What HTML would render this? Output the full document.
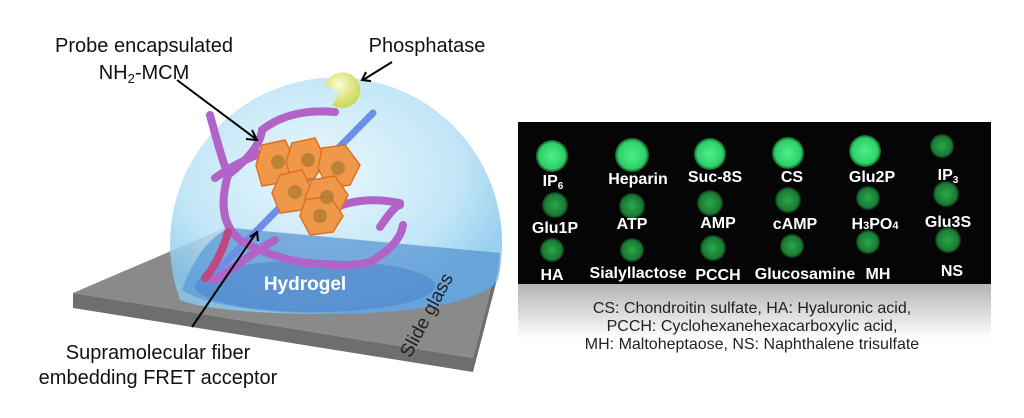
<!DOCTYPE html>
<html><head><style>
body{margin:0;background:#fff;width:1024px;height:413px;overflow:hidden;font-family:"Liberation Sans",sans-serif;}
</style></head><body>
<svg width="1024" height="413" viewBox="0 0 1024 413" xmlns="http://www.w3.org/2000/svg">
<defs>
<radialGradient id="sph" cx="0.45" cy="0.4" r="0.6">
<stop offset="0" stop-color="#e6f6fc"/><stop offset="0.7" stop-color="#b8e2f6"/><stop offset="1" stop-color="#88c8ec"/>
</radialGradient>
<linearGradient id="refl" x1="0" y1="0" x2="0" y2="1">
<stop offset="0" stop-color="#b4b4b4"/><stop offset="1" stop-color="#fff"/>
</linearGradient>
<radialGradient id="spot" cx="0.5" cy="0.5" r="0.5">
<stop offset="0" stop-color="#4cf08a"/><stop offset="0.8" stop-color="#30d068"/><stop offset="1" stop-color="#0f5a24"/>
</radialGradient>
<radialGradient id="dim" cx="0.5" cy="0.5" r="0.5">
<stop offset="0" stop-color="#2aa84a"/><stop offset="0.8" stop-color="#1a7a34"/><stop offset="1" stop-color="#0a3014"/>
</radialGradient>
<radialGradient id="pac" cx="0.4" cy="0.35" r="0.6">
<stop offset="0" stop-color="#fbfdd0"/><stop offset="1" stop-color="#cfd860"/>
</radialGradient>
</defs>
<!-- slide glass -->
<polygon points="73,308 473,372 500,268 500,253 473,358 73,293" fill="#6e6e6e"/>
<polygon points="73,293 227,227 500,253 473,358" fill="#8a8a8a"/>
<!-- sphere (cut at glass) -->
<path d="M180 300 A166 166 0 1 1 498 280 Q470 312 335 314 Q215 314 180 300Z" fill="url(#sph)" opacity="0.85"/>
<path d="M182 290 Q200 240 230 228 L500 253 L495 285 Q460 312 335 314 Q215 312 182 290Z" fill="#5a98d8" opacity="0.7"/>
<ellipse cx="315" cy="286" rx="120" ry="26" fill="#4f86cc" opacity="0.6"/>
<!-- blue rod -->
<line x1="373" y1="113" x2="212" y2="276" stroke="#6c8ee8" stroke-width="7" stroke-linecap="round"/>
<!-- fibers -->
<g fill="none" stroke="#b263c8" stroke-width="8" stroke-linecap="round">
<path d="M210 115 Q222 160 228 175 Q260 150 262 130 Q290 108 335 112"/>
<path d="M228 175 Q215 220 240 240 Q265 255 300 262 Q350 268 370 262 Q400 245 403 225"/>
<path d="M215 178 Q240 160 270 150"/>
<path d="M275 240 Q250 255 230 270 Q212 284 210 278"/>
<path d="M380 227 Q395 205 400 205"/>
<path d="M330 210 Q360 195 400 203"/>
</g>
<path d="M228 232 Q220 260 205 278" stroke="#c04880" stroke-width="8" fill="none" stroke-linecap="round"/>
<!-- MCM hexes -->
<g fill="#f0984a" stroke="#e07020" stroke-width="1.5">
<polygon points="262,145 285,140 295,160 285,182 262,186 256,165"/>
<polygon points="292,143 315,138 325,158 315,178 292,182 286,162"/>
<polygon points="322,148 345,145 360,165 350,185 328,188 318,168"/>
<polygon points="280,175 302,170 312,190 302,210 280,213 272,193"/>
<polygon points="312,180 335,176 348,195 338,215 315,218 305,198"/>
<polygon points="305,200 330,196 343,216 333,232 310,235 300,216"/>
</g>
<g fill="#a87a30" opacity="0.7">
<circle cx="278" cy="162" r="7"/><circle cx="308" cy="160" r="7"/><circle cx="338" cy="168" r="7"/>
<circle cx="295" cy="192" r="7"/><circle cx="327" cy="197" r="7"/><circle cx="320" cy="216" r="7"/>
</g>
<!-- phosphatase -->
<path d="M340 93 m-8 12 A18 18 0 1 0 325 85 L340 93 Z" fill="url(#pac)"/>
<!-- arrows -->
<g stroke="#000" stroke-width="2" fill="none">
<line x1="177" y1="80" x2="256" y2="139"/><polyline points="246,139 257,140 252,130"/>
<line x1="392" y1="62" x2="363" y2="80"/><polyline points="366,72 362,80 371,81"/>
<line x1="192" y1="327" x2="256" y2="233"/><polyline points="250,237 257,232 258,241"/>
</g>
<!-- left labels -->
<g font-size="20" fill="#111" text-anchor="middle">
<text x="144" y="52">Probe encapsulated</text>
<text x="144" y="79">NH<tspan font-size="13" dy="4">2</tspan><tspan dy="-4">-MCM</tspan></text>
<text x="427" y="52">Phosphatase</text>
<text x="158" y="359">Supramolecular fiber</text>
<text x="158" y="384">embedding FRET acceptor</text>
</g>
<text x="305" y="290" font-size="19" font-weight="bold" fill="#fff" text-anchor="middle">Hydrogel</text>
<text x="432" y="318" font-size="19" fill="#222" text-anchor="middle" transform="rotate(-62 432 318)">Slide glass</text>
<!-- right panel -->
<rect x="518" y="284" width="473" height="55" fill="url(#refl)"/>
<rect x="518" y="122" width="473" height="162" fill="#050505"/>
<g>
<circle cx="552" cy="156" r="16" fill="url(#spot)"/><circle cx="632" cy="155" r="17" fill="url(#spot)"/>
<circle cx="710" cy="154" r="16" fill="url(#spot)"/><circle cx="788" cy="153" r="16" fill="url(#spot)"/>
<circle cx="865" cy="151" r="16" fill="url(#spot)"/><circle cx="942" cy="146" r="12" fill="url(#dim)"/>
<circle cx="555" cy="205" r="13" fill="url(#dim)"/><circle cx="632" cy="206" r="13" fill="url(#dim)"/>
<circle cx="710" cy="203" r="13" fill="url(#dim)"/><circle cx="788" cy="200" r="13" fill="url(#dim)"/>
<circle cx="868" cy="198" r="12" fill="url(#dim)"/><circle cx="946" cy="194" r="13" fill="url(#dim)"/>
<circle cx="552" cy="250" r="12" fill="url(#dim)"/><circle cx="632" cy="250" r="12" fill="url(#dim)"/>
<circle cx="713" cy="248" r="13" fill="url(#dim)"/><circle cx="792" cy="246" r="12" fill="url(#dim)"/>
<circle cx="868" cy="242" r="12" fill="url(#dim)"/><circle cx="948" cy="240" r="13" fill="url(#dim)"/>
</g>
<g font-size="16" font-weight="bold" fill="#fff" text-anchor="middle">
<text x="553" y="186">IP<tspan font-size="10" dy="3">6</tspan></text>
<text x="638" y="184">Heparin</text><text x="715" y="182">Suc-8S</text><text x="792" y="182">CS</text>
<text x="872" y="182">Glu2P</text><text x="948" y="180">IP<tspan font-size="10" dy="3">3</tspan></text>
<text x="555" y="233">Glu1P</text><text x="632" y="229">ATP</text><text x="718" y="228">AMP</text>
<text x="795" y="229">cAMP</text><text x="875" y="229">H<tspan font-size="11">3</tspan>PO<tspan font-size="11">4</tspan></text><text x="948" y="227">Glu3S</text>
<text x="552" y="280">HA</text><text x="638" y="278">Sialyllactose</text><text x="718" y="280">PCCH</text>
<text x="805" y="279">Glucosamine</text><text x="878" y="279">MH</text><text x="952" y="276">NS</text>
</g>
<g font-size="16" fill="#222" text-anchor="middle">
<text x="752" y="313">CS: Chondroitin sulfate, HA: Hyaluronic acid,</text>
<text x="752" y="331">PCCH: Cyclohexanehexacarboxylic  acid,</text>
<text x="752" y="349">MH: Maltoheptaose, NS: Naphthalene trisulfate</text>
</g>
</svg>
</body></html>
